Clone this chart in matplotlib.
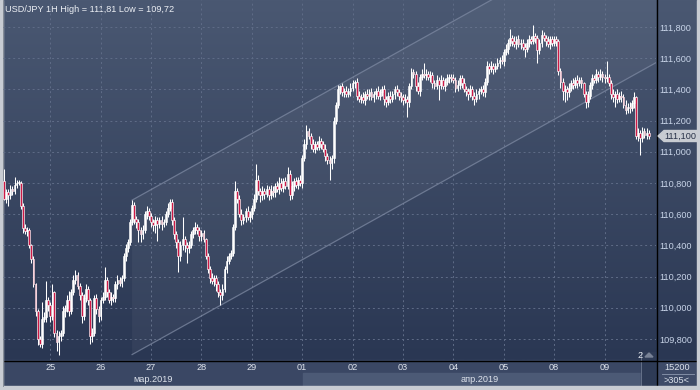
import matplotlib
matplotlib.use("Agg")
import matplotlib.pyplot as plt
import numpy as np
from matplotlib.patches import Rectangle, Polygon

# ---------------- data (hourly closes, per trading day) ----------------
day_labels = ['25', '26', '27', '28', '29', '01', '02', '03', '04', '05', '08', '09']
month_labels = ['мар.2019', 'апр.2019']
title = "USD/JPY 1H High = 111,81 Low = 109,72"
last_price_label = "111,100"
first_open = 110.81

c22 = [110.70,110.74,110.72,110.76,110.75,110.79,110.80,110.80,110.65,110.51,110.49,110.50,110.40,110.31,110.15,109.98,109.80,109.77,109.93,109.94,110.05,110.02]
c25 = [109.95,110.10,109.84,109.78,109.82,109.84,109.98,110.00,110.05,109.98,110.10,110.18,110.21,110.14,110.08,109.95,110.06,110.12,110.05,109.82,109.84,110.06,109.99,109.95]
c26 = [110.05,110.07,110.18,110.10,110.05,110.07,110.06,110.15,110.18,110.16,110.19,110.33,110.38,110.42,110.55,110.66,110.57,110.55,110.50,110.47,110.50,110.60,110.62,110.59]
c27 = [110.55,110.53,110.56,110.54,110.56,110.54,110.55,110.60,110.64,110.68,110.56,110.47,110.42,110.33,110.40,110.44,110.40,110.38,110.40,110.47,110.50,110.52,110.50,110.46]
c28 = [110.48,110.44,110.33,110.25,110.19,110.17,110.19,110.15,110.10,110.08,110.12,110.25,110.30,110.33,110.35,110.52,110.75,110.70,110.60,110.56,110.58,110.62,110.58,110.60]
c29 = [110.64,110.70,110.82,110.75,110.72,110.75,110.73,110.76,110.72,110.75,110.74,110.78,110.76,110.80,110.77,110.81,110.78,110.86,110.72,110.78,110.81,110.79,110.82,110.80]
c01 = [110.96,111.05,111.13,111.10,111.05,111.02,111.05,111.03,111.07,111.05,111.02,110.97,110.95,110.93,110.96,111.20,111.30,111.40,111.42,111.38,111.39,111.37,111.39,111.41]
c02 = [111.44,111.45,111.36,111.34,111.35,111.33,111.37,111.36,111.38,111.35,111.37,111.39,111.36,111.38,111.40,111.34,111.32,111.36,111.34,111.37,111.40,111.38,111.36,111.35]
c03 = [111.33,111.34,111.32,111.42,111.51,111.50,111.42,111.39,111.48,111.50,111.49,111.50,111.48,111.49,111.44,111.42,111.46,111.43,111.46,111.42,111.45,111.47,111.48,111.47]
c04 = [111.46,111.41,111.43,111.47,111.44,111.40,111.39,111.37,111.40,111.36,111.34,111.37,111.39,111.40,111.38,111.45,111.55,111.53,111.55,111.53,111.55,111.57,111.59,111.58]
c05 = [111.64,111.66,111.70,111.73,111.71,111.69,111.72,111.69,111.70,111.67,111.66,111.70,111.72,111.71,111.74,111.73,111.65,111.70,111.75,111.73,111.71,111.69,111.72,111.70]
c08 = [111.72,111.71,111.52,111.45,111.39,111.40,111.38,111.41,111.44,111.43,111.46,111.44,111.46,111.44,111.37,111.32,111.36,111.43,111.47,111.46,111.50,111.48,111.50,111.48]
c09 = [111.47,111.48,111.44,111.37,111.35,111.37,111.34,111.36,111.35,111.30,111.27,111.29,111.28,111.31,111.35,111.10,111.12,111.09,111.13,111.11,111.12,111.10]

# upper / lower wicks in pips (0.01)
u22 = [8,2,2,3,2,5,2,2,1,2,3,2,1,1,2,1,1,2,11,3,12,2]
l22 = [1,3,7,2,3,2,2,1,2,3,2,3,2,2,2,3,4,2,3,2,3,4]
u25 = [2,5,1,2,3,2,3,2,3,6,2,3,3,2,2,2,3,3,2,1,3,2,3,2]
l25 = [4,3,3,6,8,3,2,4,3,3,2,2,3,2,3,5,3,2,3,5,4,2,3,4]
u26 = [2,3,8,2,2,3,2,2,3,2,2,2,3,2,2,3,2,2,2,2,3,2,3,2]
l26 = [3,2,2,3,2,3,2,2,3,2,3,2,3,2,2,2,3,4,8,5,3,2,3,3]
u27 = [2,2,3,2,2,3,2,2,3,2,2,2,2,2,3,14,2,2,3,2,2,3,2,2]
l27 = [3,4,5,11,3,4,2,2,2,2,3,3,4,10,3,3,4,9,3,2,2,3,3,3]
u28 = [2,2,1,2,2,3,2,2,2,2,3,2,3,2,2,2,6,2,2,3,2,2,3,2]
l28 = [3,2,2,3,3,2,3,4,3,6,3,2,3,2,2,2,2,3,2,3,2,3,2,3]
u29 = [2,3,10,3,2,3,2,3,2,4,3,2,3,4,3,2,3,4,2,3,2,3,2,3]
l29 = [3,2,2,3,4,3,3,2,3,2,3,3,2,3,2,3,2,2,3,2,3,2,3,2]
u01 = [2,3,4,2,2,3,2,2,3,2,2,3,2,2,2,2,2,3,1,2,2,3,2,3]
l01 = [3,2,3,2,3,2,3,2,2,3,2,3,3,11,4,3,2,2,3,2,3,2,2,3]
u02 = [2,1,2,3,2,3,2,3,2,3,2,2,3,2,2,3,2,2,3,2,2,3,2,2]
l02 = [2,3,3,2,3,2,3,2,3,2,3,3,2,3,2,4,3,2,3,2,3,2,3,3]
u03 = [2,3,2,2,3,2,2,3,2,3,7,3,2,3,2,2,3,2,3,2,2,3,2,2]
l03 = [3,2,10,3,2,3,3,2,3,2,2,3,2,3,3,2,2,10,3,2,3,2,3,2]
u04 = [3,2,3,2,2,3,2,2,3,2,2,3,2,2,3,2,3,2,3,2,2,3,2,3]
l04 = [2,3,2,3,3,2,3,4,2,3,4,2,3,2,2,3,2,3,2,3,2,2,3,2]
u05 = [2,3,2,6,2,3,2,3,2,2,3,2,3,2,7,2,2,2,3,2,2,3,2,2]
l05 = [3,2,3,2,3,2,3,2,3,2,5,2,3,2,2,3,8,2,3,2,3,2,3,2]
u08 = [2,2,1,2,2,3,2,3,2,3,2,3,2,2,1,2,3,2,3,2,3,2,3,2]
l08 = [2,3,3,4,6,7,5,3,2,3,2,3,2,3,2,4,3,2,3,2,2,3,2,3]
u09 = [2,10,2,2,3,2,3,2,3,2,3,2,3,2,3,1,3,2,3,2,3,2]
l09 = [3,2,2,3,3,6,3,2,3,2,3,2,3,2,3,2,3,11,3,2,3,2]

days_c = [c22, c25, c26, c27, c28, c29, c01, c02, c03, c04, c05, c08, c09]
days_u = [u22, u25, u26, u27, u28, u29, u01, u02, u03, u04, u05, u08, u09]
days_l = [l22, l25, l26, l27, l28, l29, l01, l02, l03, l04, l05, l08, l09]

closes = np.array(sum(days_c, []))
upw = np.array(sum(days_u, [])) / 100.0
low_w = np.array(sum(days_l, [])) / 100.0
opens = np.concatenate([[first_open], closes[:-1]])
highs = np.maximum(opens, closes) + upw
lows = np.minimum(opens, closes) - low_w
idx = np.arange(len(closes))
day_starts = np.cumsum([0] + [len(d) for d in days_c[:-1]])[1:]

# trend channel (drawn annotation)
ch_x0 = 61
ch_upper0 = 110.69
ch_lower0 = 109.70
ch_slope = 0.0075

# ---------------- layout ----------------
W, H = 700, 390
fig = plt.figure(figsize=(7, 3.9), dpi=100)
FONT = 'Liberation Sans'
FS = 6.6

def c(r, g, b):
    return (r / 255, g / 255, b / 255)

bg = fig.add_axes([0, 0, 1, 1])
bg.set_xlim(0, W)
bg.set_ylim(H, 0)
bg.set_axis_off()
grad = np.linspace(0, 1, 256)[:, None]
top_col = np.array(c(74, 88, 114))
bot_col = np.array(c(42, 55, 83))
img = top_col[None, None, :] * (1 - grad[..., None]) + bot_col[None, None, :] * grad[..., None]
bg.imshow(img, extent=(0, W, 360, 0), aspect='auto', zorder=0)

# x-axis band
bg.add_patch(Rectangle((0, 360), W, 26, color=c(58, 71, 100), zorder=1))
bg.add_patch(Rectangle((303, 373), 338, 13, color=c(76, 90, 118), zorder=1))
bg.add_patch(Rectangle((641, 352), 15, 34, color=c(46, 59, 86), zorder=2))
bg.plot([641, 641], [352, 386], color=c(110, 122, 145), lw=0.6, zorder=3)
# right bottom box
bg.add_patch(Rectangle((657, 361), 40, 25, color=c(62, 75, 104), zorder=1))
bg.plot([662, 694], [374, 374], color=c(140, 152, 175), lw=0.6, zorder=3)
bg.text(677, 368, "15200", fontsize=FS, family=FONT, color=c(220, 226, 236), ha='center', va='center', zorder=4)
bg.text(677, 380.5, ">305<", fontsize=FS, family=FONT, color=c(220, 226, 236), ha='center', va='center', zorder=4)
# separator lines
bg.plot([656.5, 656.5], [0, 386], color='black', lw=1.0, zorder=5)
bg.plot([3, 697], [360.5, 360.5], color='black', lw=1.0, zorder=5)
# frame borders
frame = c(200, 204, 211)
bg.add_patch(Rectangle((0, 0), 3, H, color=frame, zorder=6))
bg.add_patch(Rectangle((0, 386), W, 4, color=frame, zorder=6))
bg.add_patch(Rectangle((697, 0), 3, H, color=frame, zorder=6))
bg.plot([3.2, 3.2], [0, 386], color=c(120, 128, 140), lw=0.6, zorder=6)

# price tag
bg.add_patch(Polygon([(658, 136), (664, 130.5), (697, 130.5), (697, 141.5), (664, 141.5)],
                     closed=True, color=c(200, 204, 210), zorder=7))
bg.text(680.5, 136.3, last_price_label, fontsize=FS, family=FONT, color=c(40, 50, 72),
        ha='center', va='center', zorder=8)

# title, marker
bg.text(5, 9, title, fontsize=FS, family=FONT, color=c(236, 239, 244), ha='left', va='center', zorder=8)
bg.text(640, 355, "2", fontsize=FS, family=FONT, color=c(230, 234, 240), ha='center', va='center', zorder=8)
bg.add_patch(Polygon([(645, 357), (649, 353), (653, 357)], closed=True, color=c(120, 130, 150), zorder=8))

# month labels
fig.text(153 / W, 1 - 380 / H, month_labels[0], fontsize=FS, family=FONT, color=c(222, 227, 236), ha='center', va='center')
fig.text(480 / W, 1 - 380 / H, month_labels[1], fontsize=FS, family=FONT, color=c(222, 227, 236), ha='center', va='center')

# ---------------- main chart ----------------
ax = fig.add_axes([3 / W, 1 - 360 / H, 653 / W, 360 / H])
ax.patch.set_alpha(0)
ax.set_xlim(-0.5, 310.5)
ax.set_ylim(109.665, 111.973)
for s in ax.spines.values():
    s.set_visible(False)

yt = [109.8, 110.0, 110.2, 110.4, 110.6, 110.8, 111.0, 111.2, 111.4, 111.6, 111.8]
ax.set_yticks(yt)
ax.set_yticklabels([f"{v:.3f}".replace('.', ',') for v in yt], family=FONT)
ax.yaxis.tick_right()
ax.tick_params(axis='y', length=0, pad=2.5, labelsize=FS, labelcolor=c(200, 212, 232))
ax.set_xticks(day_starts)
ax.set_xticklabels(day_labels, family=FONT)
ax.tick_params(axis='x', length=0, pad=2.2, labelsize=FS, labelcolor=c(222, 227, 236))
ax.grid(True, color=c(95, 108, 135), lw=0.7, linestyle=(0, (2, 3)), zorder=1)
ax.set_axisbelow(True)

# channel
xe = 311
up_end = ch_upper0 + ch_slope * (xe - ch_x0)
lo_end = ch_lower0 + ch_slope * (xe - ch_x0)
ax.add_patch(Polygon([(ch_x0, ch_lower0), (ch_x0, ch_upper0), (xe, up_end), (xe, lo_end)],
                     closed=True, facecolor='white', alpha=0.045, edgecolor='none', zorder=1.5))
ax.plot([ch_x0, xe], [ch_upper0, up_end], color=c(125, 137, 162), lw=0.9, alpha=0.75, zorder=1.6)
ax.plot([ch_x0, xe], [ch_lower0, lo_end], color=c(125, 137, 162), lw=0.9, alpha=0.75, zorder=1.6)

# candles
ax.vlines(idx, lows, highs, color='white', lw=0.75, zorder=3)
bear = closes < opens
bottoms = np.minimum(opens, closes)
heights = np.maximum(np.abs(closes - opens), 0.004)
ax.bar(idx[~bear], heights[~bear], bottom=bottoms[~bear], width=0.8,
       color='white', edgecolor='white', lw=0.4, zorder=4)
ax.bar(idx[bear], heights[bear], bottom=bottoms[bear], width=0.9,
       color=c(205, 25, 70), edgecolor='white', lw=0.45, zorder=4)

fig.savefig("out.png", dpi=100)
